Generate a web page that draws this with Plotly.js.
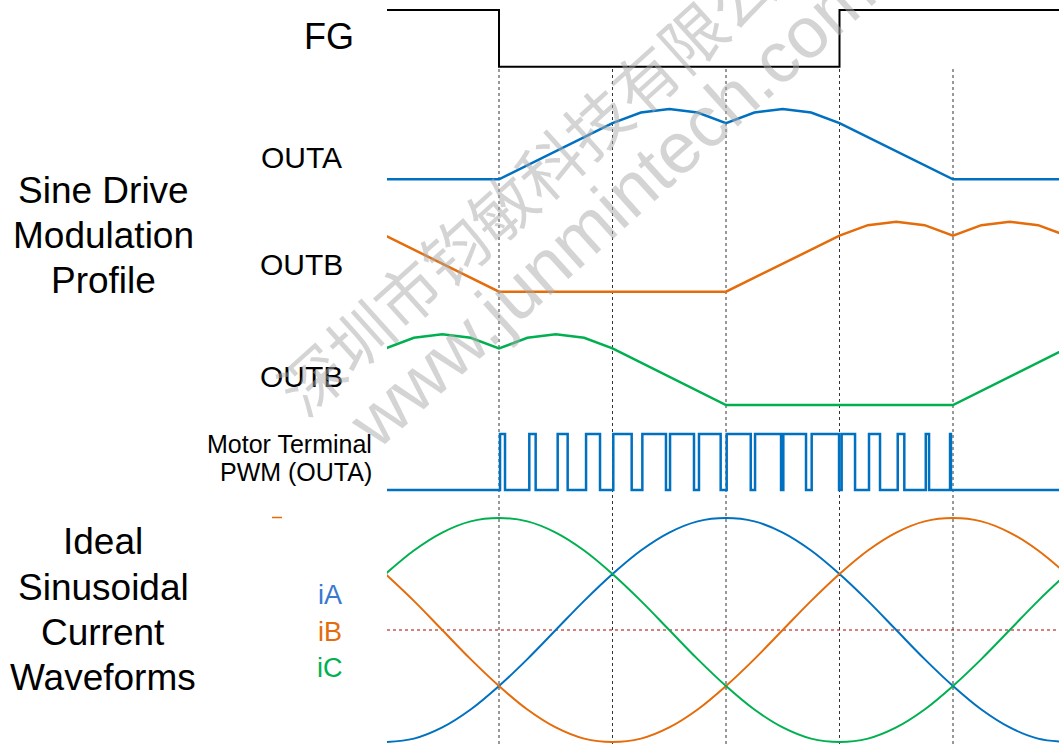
<!DOCTYPE html>
<html>
<head>
<meta charset="utf-8">
<script src="https://cdn.plot.ly/plotly-3.0.1.min.js"></script>
<style>html,body{margin:0;padding:0;background:#fff;}#chart{width:1059px;height:744px;}</style>
</head>
<body>
<div id="chart"></div>
<script>
// ---------------- data (x in units of 60 electrical degrees) ----------------
const fgX = [0, 1, 1, 4, 4, 6];
const fgLevel = [1, 1, 0, 0, 1, 1];

const outAX = [0, 1, 2, 2.25, 2.5, 2.75, 3, 3.25, 3.5, 3.75, 4, 5, 6];
const outA  = [0, 0, 0.8, 0.95, 1, 0.95, 0.8, 0.95, 1, 0.95, 0.8, 0, 0];

const outBX = [0, 1, 3, 4, 4.25, 4.5, 4.75, 5, 5.25, 5.5, 5.75, 6];
const outB  = [0.8, 0, 0, 0.8, 0.95, 1, 0.95, 0.8, 0.95, 1, 0.95, 0.8];

const outCX = [0, 0.25, 0.5, 0.75, 1, 1.25, 1.5, 1.75, 2, 3, 5, 6];
const outC  = [0.8, 0.95, 1, 0.95, 0.8, 0.95, 1, 0.95, 0.8, 0, 0, 0.8];

const pwmRise = [1.009, 1.267, 1.517, 1.767, 2.007, 2.263, 2.507, 2.762, 3.006, 3.256, 3.505, 3.755, 4.019, 4.260, 4.513, 4.760, 4.974];
const pwmFall = [1.053, 1.323, 1.605, 1.890, 2.169, 2.471, 2.718, 2.953, 3.218, 3.485, 3.705, 3.996, 4.137, 4.357, 4.571, 4.789, 4.982];

const curX = [0, 0.25, 0.5, 0.75, 1, 1.25, 1.5, 1.75, 2, 2.25, 2.5, 2.75, 3, 3.25, 3.5, 3.75, 4, 4.25, 4.5, 4.75, 5, 5.25, 5.5, 5.75, 6];
const iA = [-1, -0.97, -0.87, -0.71, -0.5, -0.26, 0, 0.26, 0.5, 0.71, 0.87, 0.97, 1, 0.97, 0.87, 0.71, 0.5, 0.26, 0, -0.26, -0.5, -0.71, -0.87, -0.97, -1];
const iB = [0.5, 0.26, 0, -0.26, -0.5, -0.71, -0.87, -0.97, -1, -0.97, -0.87, -0.71, -0.5, -0.26, 0, 0.26, 0.5, 0.71, 0.87, 0.97, 1, 0.97, 0.87, 0.71, 0.5];
const iC = [0.5, 0.71, 0.87, 0.97, 1, 0.97, 0.87, 0.71, 0.5, 0.26, 0, -0.26, -0.5, -0.71, -0.87, -0.97, -1, -0.97, -0.87, -0.71, -0.5, -0.26, 0, 0.26, 0.5];

const dividers = [1, 2, 3, 4, 5];

const sideLabels = ["FG", "OUTA", "OUTB", "OUTB"];
const groupTitle1 = ["Sine Drive", "Modulation", "Profile"];
const groupTitle2 = ["Ideal", "Sinusoidal", "Current", "Waveforms"];
const pwmLabel = ["Motor Terminal", "PWM (OUTA)"];
const currentNames = ["iA", "iB", "iC"];
const watermark = ["深圳市钧敏科技有限公司", "www.junmintech.com"];

// ---------------- styling / layout helpers ----------------
const W = 1059, H = 744;
const BLUE = "#0070C0", ORANGE = "#E46C0A", GREEN = "#00B050";
const FONT = "Liberation Sans, Arial, sans-serif";
const px = (x) => x / W;
const py = (y) => 1 - y / H;

// axis whose value v0 sits at pixel row p0 and v1 at p1
function axisFor(p0, p1, v0, v1, pad) {
  const k = (p0 - p1) / (v1 - v0);
  const top = Math.max(0, Math.min(p0, p1) - pad);
  const bot = Math.min(H, Math.max(p0, p1) + pad);
  const val = (p) => v0 + (p0 - p) / k;
  return {domain: [(H - bot) / H, (H - top) / H], range: [val(bot), val(top)],
          visible: false, fixedrange: true, anchor: "x"};
}

// build PWM step waveform from edges
const pwmX = [0], pwmY = [0];
for (let i = 0; i < pwmRise.length; i++) {
  pwmX.push(pwmRise[i], pwmRise[i], pwmFall[i], pwmFall[i]);
  pwmY.push(0, 1, 1, 0);
}
pwmX.push(6); pwmY.push(0);

const traces = [
  {x: fgX, y: fgLevel, yaxis: "y", line: {color: "#000", width: 2}},
  {x: outAX, y: outA, yaxis: "y2", line: {color: BLUE, width: 2.5}},
  {x: outBX, y: outB, yaxis: "y3", line: {color: ORANGE, width: 2.5}},
  {x: outCX, y: outC, yaxis: "y4", line: {color: GREEN, width: 2.5}},
  {x: pwmX, y: pwmY, yaxis: "y5", line: {color: BLUE, width: 2.5}},
  {x: curX, y: iA, yaxis: "y6", line: {color: BLUE, width: 2, shape: "spline"}},
  {x: curX, y: iB, yaxis: "y6", line: {color: ORANGE, width: 2, shape: "spline"}},
  {x: curX, y: iC, yaxis: "y6", line: {color: GREEN, width: 2, shape: "spline"}}
].map(t => Object.assign({type: "scatter", mode: "lines", xaxis: "x", hoverinfo: "skip"}, t));

const shapes = dividers.map(d => ({
  type: "line", xref: "x", yref: "paper", x0: d, x1: d, y0: 0, y1: py(67),
  line: {color: "#333", width: 1, dash: "dot"}, layer: "below"
}));
shapes.push({type: "line", xref: "paper", yref: "y6", x0: px(387), x1: 1, y0: 0, y1: 0,
  line: {color: "#B00000", width: 1, dash: "dot"}, layer: "below"});
shapes.push({type: "line", xref: "paper", yref: "paper", x0: px(272), x1: px(282), y0: py(517.5), y1: py(517.5),
  line: {color: ORANGE, width: 1.5}});

const ann = [];
function label(text, x, y, size, color, xanchor) {
  ann.push({text, x: px(x), y: py(y), xref: "paper", yref: "paper", showarrow: false,
    xanchor: xanchor || "center", yanchor: "middle", font: {family: FONT, size, color: color || "#000"}});
}
label(sideLabels[0], 329, 37, 36);
label(sideLabels[1], 301, 157, 30);
label(sideLabels[2], 301, 264, 30);
label(sideLabels[3], 301, 376, 30);
[190, 235, 280].forEach((y, i) => label(groupTitle1[i], 103, y, 37));
[541, 587, 632, 677].forEach((y, i) => label(groupTitle2[i], 103, y, 37));
label(pwmLabel[0], 374, 444, 25, "#000", "right");
label(pwmLabel[1], 374, 472, 25, "#000", "right");
[[595, "#3B78D0"], [632, ORANGE], [668, GREEN]].forEach((c, i) => label(currentNames[i], 330, c[0], 27, c[1]));

// watermark
ann.push({text: watermark[0], x: px(548), y: py(163), xref: "paper", yref: "paper", showarrow: false,
  textangle: -42, xanchor: "center", yanchor: "middle",
  font: {family: "Noto Sans CJK SC, sans-serif", size: 64, color: "rgba(170,170,170,0.5)"}});
ann.push({text: watermark[1], x: px(611), y: py(207), xref: "paper", yref: "paper", showarrow: false,
  textangle: -42, xanchor: "center", yanchor: "middle",
  font: {family: FONT, size: 72, color: "rgba(170,170,170,0.5)"}});

const layout = {
  width: W, height: H, margin: {l: 0, r: 0, t: 0, b: 0},
  paper_bgcolor: "#fff", plot_bgcolor: "rgba(0,0,0,0)", showlegend: false,
  xaxis: {domain: [px(387), 1], range: [(387 - 385.5) / 113.5, (1059 - 385.5) / 113.5],
          visible: false, fixedrange: true},
  yaxis: axisFor(66.7, 10, 0, 1, 6),
  yaxis2: axisFor(179.3, 109, 0, 1, 6),
  yaxis3: axisFor(291.7, 221.7, 0, 1, 6),
  yaxis4: axisFor(405, 334.3, 0, 1, 6),
  yaxis5: axisFor(490, 434, 0, 1, 6),
  yaxis6: axisFor(742, 518, -1, 1, 6),
  shapes, annotations: ann
};

Plotly.newPlot("chart", traces, layout, {staticPlot: true, displayModeBar: false});
</script>
</body>
</html>
